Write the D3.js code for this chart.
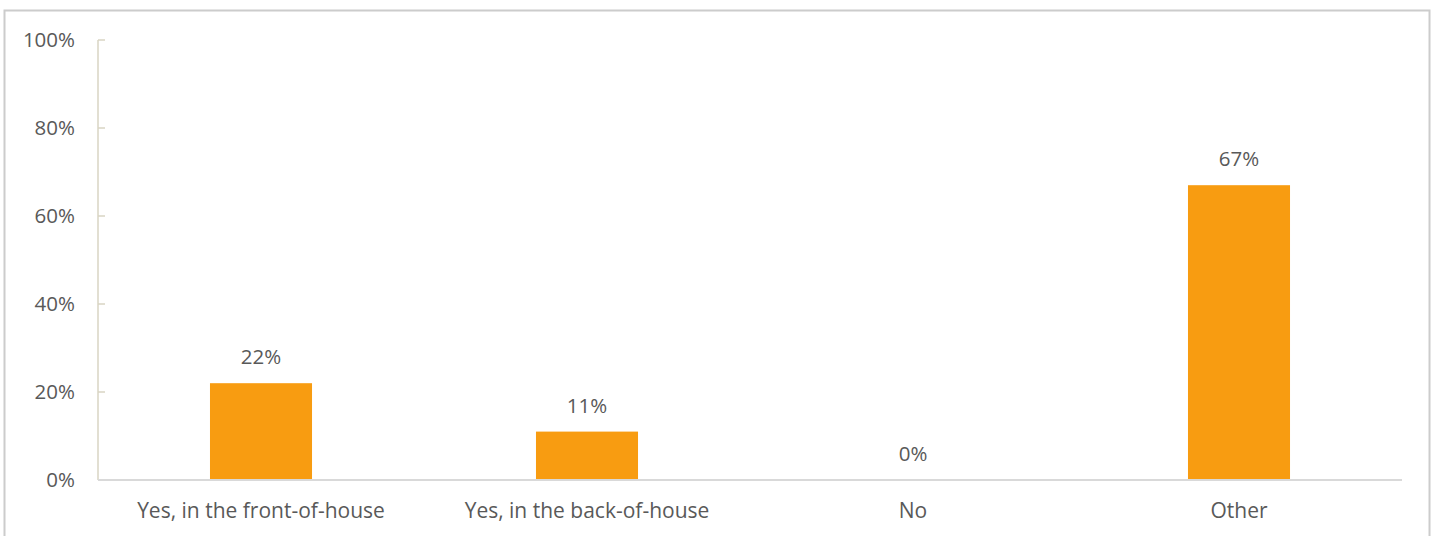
<!DOCTYPE html>
<html>
<head>
<meta charset="utf-8">
<script src="https://cdn.jsdelivr.net/npm/d3@7"></script>
<style>
  html, body { margin: 0; padding: 0; background: #fff; }
  svg { display: block; }
  text { font-family: "Open Sans", "Noto Sans", sans-serif; fill: #595959; }
</style>
</head>
<body>
<svg id="chart" width="1437" height="536"></svg>
<script>
// Survey responses
const categories = ["Yes, in the front-of-house", "Yes, in the back-of-house", "No", "Other"];
const values = [0.22, 0.11, 0.00, 0.67];
const yTicks = [0, 0.2, 0.4, 0.6, 0.8, 1.0];

const svg = d3.select("#chart");
const W = 1437, H = 536;
const margin = { left: 98, right: 35, top: 40, bottom: 56 };
const pct = d3.format(".0%");

// Outer chart frame
svg.append("rect")
  .attr("x", 4.5).attr("y", 10.5)
  .attr("width", 1425).attr("height", 540)
  .attr("fill", "#fff").attr("stroke", "#cccccc").attr("stroke-width", 2);

const x = d3.scaleBand()
  .domain(categories)
  .range([margin.left, W - margin.right])
  .paddingInner(0.687)
  .paddingOuter(0.3435);

const y = d3.scaleLinear().domain([0, 1]).range([H - margin.bottom, margin.top]);

// Y axis labels
const yAxis = d3.axisLeft(y).tickValues(yTicks).tickFormat(pct).tickSize(0).tickPadding(23);
const gy = svg.append("g").attr("transform", `translate(${margin.left},0)`).call(yAxis);
gy.select(".domain").remove();
gy.selectAll("text")
  .attr("font-size", 20.5)
  .attr("font-family", "Open Sans, Noto Sans, sans-serif")
  .style("fill", "#595959");

// Y axis line with short inward ticks
svg.append("line")
  .attr("x1", margin.left).attr("x2", margin.left)
  .attr("y1", y(1)).attr("y2", y(0))
  .attr("stroke", "#d9d5c3").attr("stroke-width", 1.5);
svg.selectAll(".ytick").data(yTicks).join("line")
  .attr("class", "ytick")
  .attr("x1", margin.left).attr("x2", margin.left + 7)
  .attr("y1", d => y(d)).attr("y2", d => y(d))
  .attr("stroke", "#d9d5c3").attr("stroke-width", 1.5);

// Bars
svg.selectAll(".bar").data(values).join("rect")
  .attr("class", "bar")
  .attr("x", (d, i) => x(categories[i]))
  .attr("y", d => y(d))
  .attr("width", x.bandwidth())
  .attr("height", d => y(0) - y(d))
  .attr("fill", "#f89c11");

// Baseline
svg.append("line")
  .attr("x1", margin.left).attr("x2", W - margin.right)
  .attr("y1", y(0)).attr("y2", y(0))
  .attr("stroke", "#d9d9d9").attr("stroke-width", 2);

// Value labels
svg.selectAll(".val").data(values).join("text")
  .attr("class", "val")
  .attr("x", (d, i) => x(categories[i]) + x.bandwidth() / 2)
  .attr("y", d => y(d) - 19)
  .attr("text-anchor", "middle")
  .attr("font-size", 20.5)
  .text(d => pct(d));

// Category labels
svg.selectAll(".cat").data(categories).join("text")
  .attr("class", "cat")
  .attr("x", d => x(d) + x.bandwidth() / 2)
  .attr("y", y(0) + 38)
  .attr("text-anchor", "middle")
  .attr("font-size", 21)
  .text(d => d);
</script>
</body>
</html>
